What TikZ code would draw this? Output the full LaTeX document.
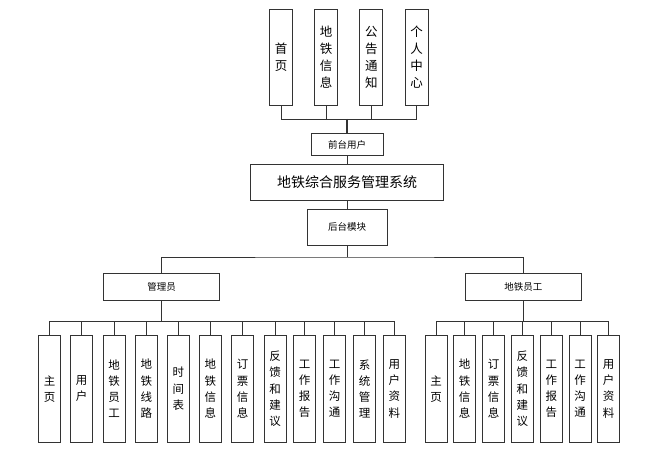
\documentclass[tikz,border=0pt]{standalone}
\usepackage{fontspec}
\newfontfamily\cjk{Noto Sans CJK SC}
\begin{document}
\begin{tikzpicture}[x=1pt,y=-1pt,
  ln/.style={draw=black!80,line width=0.9pt},
  topbox/.style={ln,fill=white,minimum width=23pt,minimum height=96.5pt,inner sep=0pt,align=center,font=\cjk\fontsize{12.5}{17}\selectfont},
  leaf/.style={ln,fill=white,minimum width=22pt,minimum height=107pt,inner sep=0pt,align=center,font=\cjk\fontsize{11.5}{16.2}\selectfont},
  midbox/.style={ln,fill=white,inner sep=0pt,font=\cjk\fontsize{9.5}{11}\selectfont},
  conn/.style={draw=black!80,line width=0.9pt}
]
\useasboundingbox (0,0) rectangle (666,454);
% top row
\node[topbox] (t1) at (281,57.3) {首\\页};
\node[topbox] (t2) at (326,57.3) {地\\铁\\信\\息};
\node[topbox] (t3) at (371.3,57.3) {公\\告\\通\\知};
\node[topbox] (t4) at (416.5,57.3) {个\\人\\中\\心};
\node[midbox,minimum width=72pt,minimum height=22.5pt] (qt) at (347,144.4) {前台用户};
\node[midbox,minimum width=193pt,minimum height=36pt,font=\cjk\fontsize{14}{16}\selectfont] (sys) at (347,182.3) {地铁综合服务管理系统};
\node[midbox,minimum width=80pt,minimum height=36pt] (ht) at (347,227) {后台模块};
\node[midbox,minimum width=116pt,minimum height=27.5pt] (m) at (161.5,287) {管理员};
\node[midbox,minimum width=116.5pt,minimum height=27.5pt] (s) at (523.3,287) {地铁员工};
\coordinate (jt) at (347,119);
\coordinate (jb) at (347,257);
\coordinate (jm) at (161.5,321.7);
\coordinate (js) at (523.3,321.7);
% leaves manager
\foreach \x/\t [count=\i] in {49.5/{主\\页},81.7/{用\\户},114/{地\\铁\\员\\工},146.3/{地\\铁\\线\\路},178.3/{时\\间\\表},210.3/{地\\铁\\信\\息},242.7/{订\\票\\信\\息},275/{反\\馈\\和\\建\\议},304.7/{工\\作\\报\\告},334.7/{工\\作\\沟\\通},364.7/{系\\统\\管\\理},394.3/{用\\户\\资\\料}}
  {\node[leaf] (a\i) at (\x,388.8) {\t};
   \draw[conn] (a\i.north) |- (jm);}
\foreach \x/\t [count=\i] in {436.2/{主\\页},464.7/{地\\铁\\信\\息},493.7/{订\\票\\信\\息},522.3/{反\\馈\\和\\建\\议},551.3/{工\\作\\报\\告},580/{工\\作\\沟\\通},608.7/{用\\户\\资\\料}}
  {\node[leaf] (b\i) at (\x,388.8) {\t};
   \draw[conn] (b\i.north) |- (js);}
% connectors
\draw[conn] (t1.south) |- (jt);
\draw[conn] (t4.south) |- (jt);
\draw[conn] (t2.south) -- (t2.south |- jt);
\draw[conn] (t3.south) -- (t3.south |- jt);
\draw[conn,line width=1.8pt] (jt) -- (qt.north);
\draw[conn] (qt.south) -- (sys.north);
\draw[conn] (sys.south) -- (ht.north);
\draw[conn] (ht.south) -- (jb);
\draw[conn] (m.north) |- (jb) -| (s.north);
\draw[conn] (m.south) -- (jm);
\draw[conn] (s.south) -- (js);
\end{tikzpicture}
\end{document}
